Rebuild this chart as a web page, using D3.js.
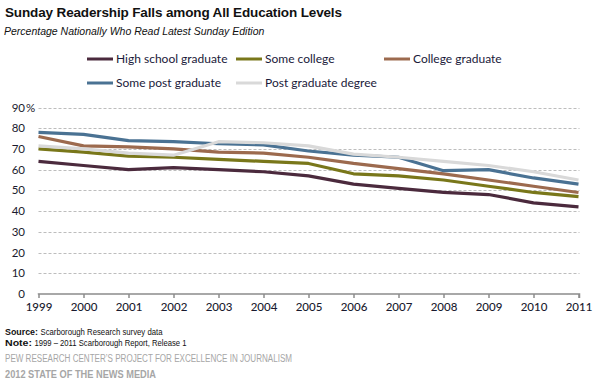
<!DOCTYPE html>
<html>
<head>
<meta charset="utf-8">
<script src="https://cdn.jsdelivr.net/npm/d3@7"></script>
<style>
  body { margin: 0; background: #fff; }
  svg { display: block; }
</style>
</head>
<body>
<div id="chart"></div>
<script>
// Data
const years = [1999, 2000, 2001, 2002, 2003, 2004, 2005, 2006, 2007, 2008, 2009, 2010, 2011];
const highSchool = [64, 62, 60, 61, 60, 59, 57, 53, 51, 49, 48, 44, 42];
const someCollege = [70, 68.5, 66.5, 66, 65, 64, 63, 58, 57, 55, 52, 49, 47];
const collegeGrad = [76, 71.5, 71, 70, 68.5, 68, 66, 63, 60.5, 58, 55, 52, 49];
const somePostGrad = [78, 77, 74, 73.5, 72.5, 72, 69, 67, 66, 59.5, 60, 56, 53];
const postGradDegree = [71.5, 70, 68, 67, 73.5, 73, 71.5, 67.5, 66, 64, 62, 59, 55];
const yTicks = [0, 10, 20, 30, 40, 50, 60, 70, 80, 90];

const seriesNames = ["High school graduate", "Some college", "College graduate", "Some post graduate", "Post graduate degree"];
const seriesValues = [highSchool, someCollege, collegeGrad, somePostGrad, postGradDegree];
const colors = ["#4b2a3d", "#79771a", "#9c6a4e", "#4a7293", "#d9d9d9"];

let chart = {
  width: 600,
  height: 383,
  left: 38.5,
  right: 578.5,
  top: 107.5,
  bottom: 294
};

const svg = d3.select("#chart").append("svg")
  .attr("width", chart.width)
  .attr("height", chart.height);

const x = d3.scalePoint()
  .domain(years)
  .range([chart.left, chart.right]);

const y = d3.scaleLinear()
  .domain([0, 90])
  .range([chart.bottom, chart.top]);

// Titles
svg.append("text")
  .attr("x", 5).attr("y", 17)
  .attr("textLength", 337)
  .style("font", "bold 13.5px 'Liberation Sans', Arial, sans-serif")
  .attr("fill", "#111")
  .text("Sunday Readership Falls among All Education Levels");

svg.append("text")
  .attr("x", 4).attr("y", 35)
  .style("font", "italic 10.5px 'Liberation Sans', Arial, sans-serif")
  .attr("fill", "#111")
  .text("Percentage Nationally Who Read Latest Sunday Edition");

// Gridlines
svg.append("g")
  .selectAll("line")
  .data(yTicks.filter(d => d > 0))
  .join("line")
  .attr("x1", chart.left)
  .attr("x2", chart.right + 1)
  .attr("y1", d => Math.round(y(d)) + 0.5)
  .attr("y2", d => Math.round(y(d)) + 0.5)
  .attr("stroke", "#bdbdbd")
  .attr("stroke-dasharray", "3,2");

// Y labels
svg.append("g")
  .selectAll("text")
  .data(yTicks)
  .join("text")
  .attr("x", 25)
  .attr("y", d => y(d) + 4)
  .attr("text-anchor", "end")
  .style("font", "11.5px Lato, 'Open Sans', sans-serif")
  .attr("fill", "#1a1a2e")
  .text(d => d);

svg.append("text")
  .attr("x", 26)
  .attr("y", y(90) + 4)
  .style("font", "11.5px Lato, 'Open Sans', sans-serif")
  .attr("fill", "#1a1a2e")
  .text("%");

// X axis
const xAxis = d3.axisBottom(x).tickSize(4).tickPadding(5).tickFormat(d => d);
const gx = svg.append("g")
  .attr("transform", `translate(0, ${chart.bottom})`)
  .call(xAxis);
gx.select(".domain").attr("stroke", "#8c8c8c").attr("stroke-width", 1.5)
  .attr("d", `M${chart.left},0.5V0H${chart.right + 1}V4`);
gx.selectAll(".tick line").attr("stroke", "#8c8c8c").attr("stroke-width", 1.5);
gx.selectAll(".tick text")
  .style("font", "500 11.5px Lato, 'Open Sans', sans-serif")
  .attr("fill", "#1a1a2e");

// Lines, in series order (grey ends on top)
const line = d3.line()
  .x((d, i) => x(years[i]))
  .y(d => y(d));

svg.append("g")
  .selectAll("path")
  .data(seriesValues)
  .join("path")
  .attr("d", d => line(d))
  .attr("fill", "none")
  .attr("stroke", (d, i) => colors[i])
  .attr("stroke-width", 3.2)
  .attr("stroke-linejoin", "round");

// Legend
const legendPos = [
  { x: 87, y: 59 }, { x: 236, y: 59 }, { x: 384, y: 59 },
  { x: 87, y: 83 }, { x: 236, y: 83 }
];

const legend = svg.append("g")
  .selectAll("g")
  .data(seriesNames)
  .join("g")
  .attr("transform", (d, i) => `translate(${legendPos[i].x}, ${legendPos[i].y})`);

legend.append("line")
  .attr("x1", 0).attr("x2", 26)
  .attr("stroke", (d, i) => colors[i])
  .attr("stroke-width", 3);

legend.append("text")
  .attr("x", 29)
  .attr("y", 4)
  .style("font", "12px Lato, 'Open Sans', sans-serif")
  .attr("fill", "#1a1a3a")
  .text(d => d);

// Footer
const foot = svg.append("g").style("font-family", "'Liberation Sans', Arial, sans-serif");

// helper: a text squeezed to a given width
let fitText = (str, x0, y0, w, size, weight, fill) => foot.append("text")
  .attr("x", x0).attr("y", y0)
  .attr("textLength", w).attr("lengthAdjust", "spacingAndGlyphs")
  .style("font-size", size + "px")
  .style("font-weight", weight)
  .attr("fill", fill)
  .text(str);

fitText("Source:", 5, 335, 33, 9, "bold", "#111");
fitText("Scarborough Research survey data", 40.5, 335, 122, 9, "normal", "#111");
fitText("Note:", 5, 346, 27, 9, "bold", "#111");
fitText("1999 \u2013 2011 Scarborough Report, Release 1", 34.5, 346, 152, 9, "normal", "#111");
fitText("PEW RESEARCH CENTER\u2019S PROJECT FOR EXCELLENCE IN JOURNALISM", 5, 362, 287, 10, "normal", "#a6a6a6");
fitText("2012 STATE OF THE NEWS MEDIA", 5, 378, 151, 10.5, "bold", "#a6a6a6");
</script>
</body>
</html>
